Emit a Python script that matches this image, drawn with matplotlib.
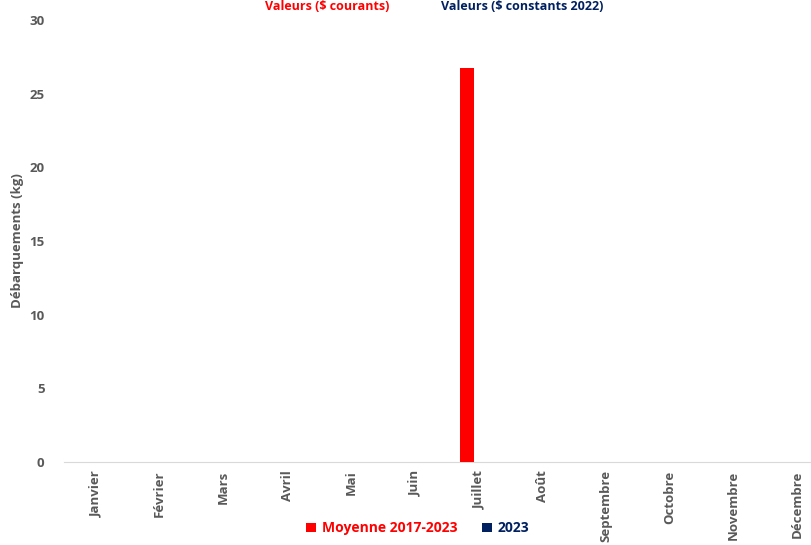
import matplotlib
matplotlib.use("Agg")
import matplotlib.pyplot as plt
import numpy as np

months = ["Janvier", "Février", "Mars", "Avril", "Mai", "Juin", "Juillet",
          "Août", "Septembre", "Octobre", "Novembre", "Décembre"]
moyenne = [0, 0, 0, 0, 0, 0, 26.75, 0, 0, 0, 0, 0]
y2023 = [0, 0, 0, 0, 0, 0, 0, 0, 0, 0, 0, 0]
yticks = [0, 5, 10, 15, 20, 25, 30]

RED = "#FF0000"
NAVY = "#002060"
GRAY = "#595959"

plt.rcParams['font.family'] = ['Open Sans', 'DejaVu Sans']

fig = plt.figure(figsize=(8.11, 5.45), dpi=100)
ax = fig.add_axes([64/811, 83/545, 765/811, 442/545])

x = np.arange(len(months))
w = 0.22
ax.bar(x - 0.175, moyenne, width=w, color=RED, label="Moyenne 2017-2023", zorder=3)
ax.bar(x - 0.175 + w, y2023, width=w, color=NAVY, label="2023", zorder=3)

ax.set_xlim(-0.5, 11.5)
ax.set_ylim(0, 30)
ax.set_yticks(yticks)
ax.set_yticklabels([str(v) for v in yticks], fontsize=9.5, fontweight='bold', color=GRAY)
ax.set_xticks(x)
ax.set_xticklabels(months, rotation=90, fontsize=9.5, fontweight='bold', color=GRAY)
ax.tick_params(axis='y', length=0, pad=14)
ax.tick_params(axis='x', length=0, pad=6)
for s in ['top', 'right', 'left']:
    ax.spines[s].set_visible(False)
ax.spines['bottom'].set_color('#D9D9D9')
ax.set_ylabel("Débarquements (kg)", fontsize=9.5, fontweight='bold', color=GRAY, labelpad=4)

leg = fig.legend(loc='lower center', bbox_to_anchor=(0.515, -0.005), ncol=2, frameon=False,
                 handlelength=0.7, handleheight=0.7, handletextpad=0.4,
                 columnspacing=1.8, prop={'weight': 'bold', 'size': 10})
for t, c in zip(leg.get_texts(), [RED, NAVY]):
    t.set_color(c)

fig.text(327/811, 1.0, "Valeurs ($ courants)", color=RED, fontsize=9,
         fontweight='bold', ha='center', va='top')
fig.text(522/811, 1.0, "Valeurs ($ constants 2022)", color=NAVY, fontsize=9,
         fontweight='bold', ha='center', va='top')

fig.savefig("out.png", dpi=100)
